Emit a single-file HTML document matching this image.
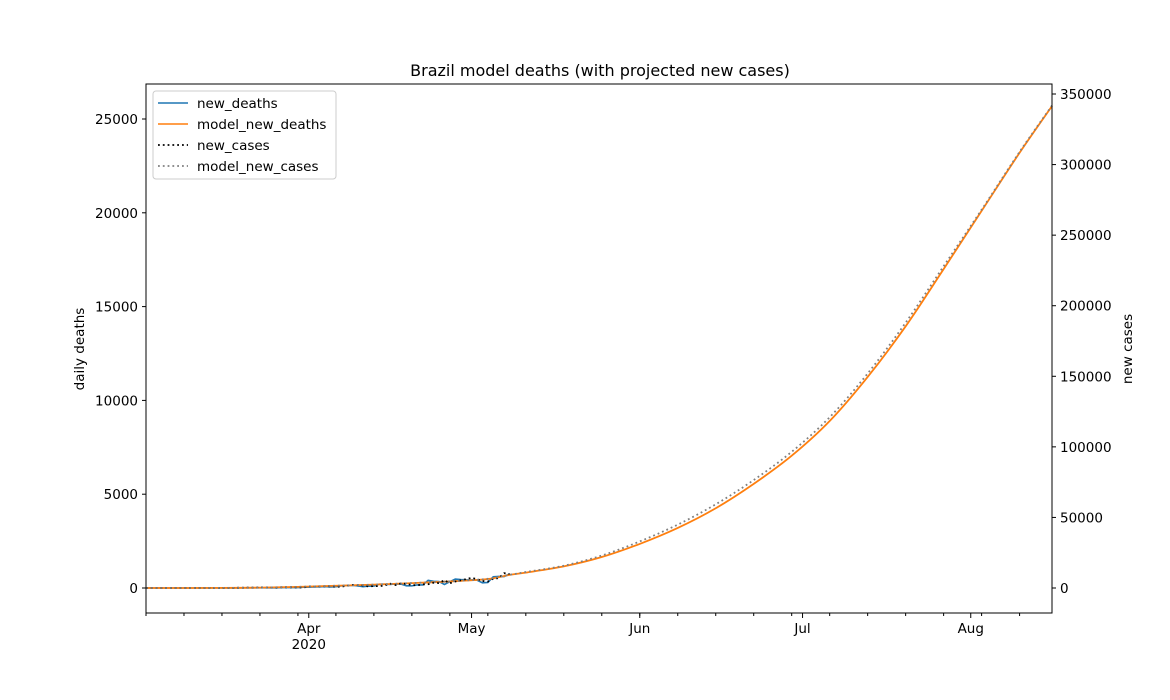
<!DOCTYPE html>
<html><head><meta charset="utf-8"><style>
html,body{margin:0;padding:0;background:#fff;}
svg{display:block;font-family:"DejaVu Sans","Liberation Sans",sans-serif;}
</style></head><body>
<svg id="chart" width="1170" height="700" viewBox="0 0 1170 700">
<rect x="0" y="0" width="1170" height="700" fill="#fff"/>
<text x="600" y="76" font-size="16" text-anchor="middle">Brazil model deaths (with projected new cases)</text>
<text transform="translate(84,349) rotate(-90)" font-size="13.5" text-anchor="middle">daily deaths</text>
<text transform="translate(1132,349) rotate(-90)" font-size="13.5" text-anchor="middle">new cases</text>
<g id="plot"></g>
<g id="axes"></g>
<g id="legend">
<rect x="153" y="91" width="183" height="88" rx="3" fill="#fff" fill-opacity="0.8" stroke="#ccc"/>
<line x1="158" y1="103" x2="188" y2="103" stroke="#1f77b4" stroke-width="1.6"/>
<text x="197" y="108" font-size="13.5">new_deaths</text>
<line x1="158" y1="124" x2="188" y2="124" stroke="#ff7f0e" stroke-width="1.6"/>
<text x="197" y="129" font-size="13.5">model_new_deaths</text>
<line x1="158" y1="145" x2="188" y2="145" stroke="#000" stroke-width="1.8" stroke-dasharray="1.8,3"/>
<text x="197" y="150" font-size="13.5">new_cases</text>
<line x1="158" y1="166" x2="188" y2="166" stroke="#808080" stroke-width="1.8" stroke-dasharray="1.8,3"/>
<text x="197" y="171" font-size="13.5">model_new_cases</text>
</g>
</svg>
<script>
// days since 2020-03-02
const deathsActual = [0,0,0,0,0,0,0,0,0,0,0,0,0,0,0,1,3,4,7,7,7,9,12,11,12,20,22,24,22,42,40,58,60,73,54,67,114,133,141,115,68,99,105,204,204,188,217,206,115,113,166,165,407,357,346,189,338,474,449,435,428,421,275,296,600,615,610,751];
const casesActual = [0,0,0,0,2,5,5,0,0,6,13,21,23,25,56,77,57,137,193,283,224,418,345,310,232,482,502,487,352,323,1138,1119,1074,1146,1222,852,926,1661,2210,1930,1781,1089,1442,1261,1832,3058,2105,3257,2917,2055,1927,2498,2678,3735,3503,5514,3379,4613,5385,6276,7218,6209,4970,4588,6633,6935,10503,9888];
const modelDays = [0,7,14,21,28,35,42,49,56,63,67,70,77,84,91,98,105,112,119,126,133,140,147,154,161,167];
const modelDeaths = [0,0,5,20,60,120,180,260,350,480,700,820,1150,1650,2350,3200,4250,5550,7050,8900,11250,13950,17000,20100,23200,25700];
const modelCases = [0,0,70,270,800,1600,2400,3500,4700,6500,9300,11300,15800,23000,33000,44900,59300,76500,96500,121000,152000,188000,228000,268000,309000,342000];
const leftTicks = [0,5000,10000,15000,20000,25000];
const rightTicks = [0,50000,100000,150000,200000,250000,300000,350000];
const monthDays = [30,60,91,121,152];
const monthLabels = ["Apr","May","Jun","Jul","Aug"];

const NS="http://www.w3.org/2000/svg";
const L=146,R=1052,T=84,B=613;
const xs=d=>L+d*5.426;
const yL=v=>588-v*0.01876;
const yR=v=>588-v*0.0014114;
function mk(tag,attrs,parent){const e=document.createElementNS(NS,tag);for(const k in attrs)e.setAttribute(k,attrs[k]);parent.appendChild(e);return e;}
const plot=document.getElementById('plot'),axes=document.getElementById('axes');
function path(pts){return pts.map((p,i)=>(i?'L':'M')+p[0].toFixed(2)+','+p[1].toFixed(2)).join('');}
function smooth(pts){let d='M'+pts[0][0].toFixed(2)+','+pts[0][1].toFixed(2);
 for(let i=0;i<pts.length-1;i++){const p0=pts[i-1]||pts[i],p1=pts[i],p2=pts[i+1],p3=pts[i+2]||p2;
  const c1=[p1[0]+(p2[0]-p0[0])/6,p1[1]+(p2[1]-p0[1])/6],c2=[p2[0]-(p3[0]-p1[0])/6,p2[1]-(p3[1]-p1[1])/6];
  d+='C'+c1[0].toFixed(2)+','+c1[1].toFixed(2)+' '+c2[0].toFixed(2)+','+c2[1].toFixed(2)+' '+p2[0].toFixed(2)+','+p2[1].toFixed(2);}
 return d;}

let e;
e=mk('path',{d:path(deathsActual.map((v,i)=>[xs(i),yL(v)])),fill:'none',stroke:'#1f77b4','stroke-width':1.6},plot);


e=mk('path',{d:smooth(modelDays.map((d,i)=>[xs(d),yL(modelDeaths[i])])),fill:'none',stroke:'#ff7f0e','stroke-width':1.8,'stroke-linejoin':'round'},plot);


e=mk('path',{d:path(casesActual.map((v,i)=>[xs(i),yR(v)])),fill:'none',stroke:'#000','stroke-width':1.8,'stroke-dasharray':'1.8,3'},plot);


e=mk('path',{d:smooth(modelDays.map((d,i)=>[xs(d),yR(modelCases[i])])),fill:'none',stroke:'#808080','stroke-width':1.8,'stroke-dasharray':'1.8,3'},plot);



e=mk('rect',{x:L,y:T,width:R-L,height:B-T,fill:'none',stroke:'#000','stroke-width':1},axes);



leftTicks.forEach(v=>{const y=yL(v);
 e=mk('line',{x1:L-4,x2:L,y1:y,y2:y,stroke:'#000'},axes);
 
 
 e=mk('text',{x:L-8,y:y+5,'font-size':13.5,'text-anchor':'end'},axes);e.textContent=v;
 
 
});
rightTicks.forEach(v=>{const y=yR(v);
 e=mk('line',{x1:R,x2:R+4,y1:y,y2:y,stroke:'#000'},axes);
 
 
 e=mk('text',{x:R+8,y:y+5,'font-size':13.5},axes);e.textContent=v;
 
 
});
for(let d=0;xs(d)<=R+1;d+=7){const x=xs(d);
 e=mk('line',{x1:x,x2:x,y1:B,y2:B+3,stroke:'#000'},axes);
 
 
}
monthDays.forEach((d,i)=>{const x=xs(d);
 e=mk('line',{x1:x,x2:x,y1:B,y2:B+5,stroke:'#000'},axes);
 
 
 e=mk('text',{x:x,y:B+20,'font-size':13.5,'text-anchor':'middle'},axes);e.textContent=monthLabels[i];
 
 
});
e=mk('text',{x:xs(monthDays[0]),y:B+36,'font-size':13.5,'text-anchor':'middle'},axes);e.textContent='2020';


</script>
</body></html>
